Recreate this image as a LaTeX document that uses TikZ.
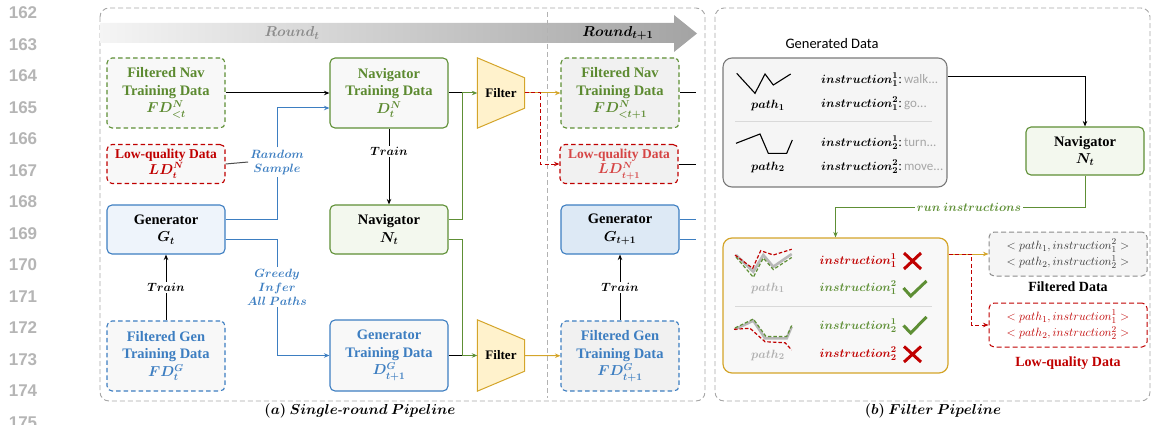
\documentclass[tikz,border=0pt]{standalone}
\usepackage[no-math]{fontspec}
\setmainfont{Liberation Serif}
\newfontfamily\carl{Carlito}
\newfontfamily\lnfont{Liberation Sans}
\usetikzlibrary{arrows.meta,calc,backgrounds}
\newcommand\bmm[1]{{\boldmath$#1$}}
\definecolor{cgreen}{HTML}{5E8F35}
\definecolor{cgtext}{HTML}{5C8A30}
\definecolor{cblue}{HTML}{3D7EC1}
\definecolor{cred}{HTML}{C00000}
\definecolor{cred2}{HTML}{D64545}
\definecolor{cgold}{HTML}{D4A52A}
\definecolor{cfilt}{HTML}{FFF2CC}
\definecolor{fillA}{HTML}{F8F8F8}
\definecolor{fillB}{HTML}{F1F1F1}
\definecolor{navfill}{HTML}{F3F8EE}
\definecolor{genfill}{HTML}{EEF4FB}
\definecolor{genfill2}{HTML}{DDE9F5}
\definecolor{lnum}{HTML}{B5B5B5}
\definecolor{outer}{HTML}{A6A6A6}
\begin{document}
\begin{tikzpicture}[x=1pt,y={(0pt,-1pt)},
  >={Stealth[length=5.5pt,width=4.5pt]},
  bx/.style={rounded corners=5pt, minimum width=118pt, align=center, line width=1.1pt, inner sep=2pt,
     font=\fontsize{14.5}{17.5}\selectfont\bfseries},
  lqfont/.style={font=\fontsize{13.5}{15.5}\selectfont\bfseries},
  dsh/.style={dash pattern=on 4.5pt off 3pt},
  lbl/.style={fill=white, inner sep=1.5pt, font=\fontsize{12}{14}\selectfont},
  blbl/.style={text=cblue, align=center, inner sep=2pt, font=\fontsize{12}{14}\selectfont},
  bl/.style={draw=cblue, line width=1pt},
  gl/.style={draw=cgreen, line width=1pt},
  gd/.style={draw=cgold, line width=1pt},
  rd/.style={draw=cred, line width=1pt, dash pattern=on 4pt off 2.5pt},
  bk/.style={draw=black, line width=1pt},
  lnumst/.style={text=lnum, font=\lnfont\bfseries\fontsize{17}{19}\selectfont},
  insb/.style={font=\fontsize{13}{15}\selectfont, inner sep=1pt},
  pth/.style={font=\fontsize{13}{15}\selectfont, inner sep=1pt},
  crossst/.style={draw=cred, line width=3pt},
  checkst/.style={draw=cgreen, line width=3pt},
  outbox/.style={draw=outer, line width=0.9pt, dash pattern=on 5pt off 3pt, rounded corners=9pt},
  tupl/.style={rounded corners=5pt, minimum width=158pt, minimum height=44pt, align=center, line width=1pt,
     dash pattern=on 5pt off 3pt, font=\fontsize{13}{16.5}\selectfont, inner sep=1pt}
]
\useasboundingbox (0,0) rectangle (1153,425);

% line numbers
\foreach \i [count=\k from 0] in {162,...,175}
  \node[lnumst] (ln\i) at (23,{13+31.5*\k}) {\i};

% outer boxes
\draw[outbox] (100,8) rectangle (705,401);
\draw[outbox] (715,8) rectangle (1150,401);

% round arrow
\shade[left color=black!4, right color=black!36]
  (100,23) -- (674,23) -- (674,15) -- (697,33.5) -- (674,52) -- (674,43) -- (100,43) -- cycle;
\node[text=black!45, font=\fontsize{15}{17}\selectfont] (rt) at (292,33) {\bmm{Round_{t}}};
\node[text=black, font=\fontsize{15}{17}\selectfont] (rt1) at (618,33) {\bmm{Round_{t+1}}};
\draw[draw=black!30, line width=0.8pt, dash pattern=on 5pt off 3pt] (547,12) -- (547,398);

% ---------- (a) nodes ----------
\node[bx, dsh, draw=cgreen, fill=fillA, text=cgtext, minimum height=70pt] (fdn) at (166,93) {Filtered Nav\\Training Data\\\bmm{FD^{N}_{<t}}};
\node[bx, lqfont, dsh, draw=cred, fill=fillA, text=cred, minimum height=39pt] (ldn) at (166,164) {Low-quality Data\\\bmm{LD^{N}_{t}}};
\node[bx, draw=cblue, fill=genfill, minimum height=49pt] (gen) at (166,229.5) {Generator\\\bmm{G_{t}}};
\node[bx, dsh, draw=cblue, fill=fillA, text=cblue, minimum height=70pt] (fdg) at (166,356) {Filtered Gen\\Training Data\\\bmm{FD^{G}_{t}}};

\node[bx, draw=cgreen, fill=fillA, text=cgtext, minimum height=70pt] (dnt) at (389,93) {Navigator\\Training Data\\\bmm{D^{N}_{t}}};
\node[bx, draw=cgreen, fill=navfill, minimum height=49pt] (nav) at (389,229.5) {Navigator\\\bmm{N_{t}}};
\node[bx, draw=cblue, fill=fillA, text=cblue, minimum height=71pt] (dgt) at (389,355.5) {Generator\\Training Data\\\bmm{D^{G}_{t+1}}};

\node[font=\fontsize{13}{15}\selectfont\bfseries, minimum width=47pt, minimum height=70pt, inner sep=0pt] (f1) at (501,93) {Filter};
\node[font=\fontsize{13}{15}\selectfont\bfseries, minimum width=47pt, minimum height=71pt, inner sep=0pt] (f2) at (501,355.5) {Filter};
\begin{scope}[on background layer]
\filldraw[fill=cfilt, draw=cgold, line width=1pt] (f1.north west) -- ([yshift=-20pt]f1.north east) -- ([yshift=20pt]f1.south east) -- (f1.south west) -- cycle;
\filldraw[fill=cfilt, draw=cgold, line width=1pt] (f2.north west) -- ([yshift=-20pt]f2.north east) -- ([yshift=20pt]f2.south east) -- (f2.south west) -- cycle;
\end{scope}

\node[bx, dsh, draw=cgreen, fill=fillB, text=cgtext, minimum height=70pt] (fdn2) at (620,93) {Filtered Nav\\Training Data\\\bmm{FD^{N}_{<t+1}}};
\node[bx, lqfont, dsh, draw=cred, fill=fillB, text=cred2, minimum height=39pt] (ldn2) at (619,164) {Low-quality Data\\\bmm{LD^{N}_{t+1}}};
\node[bx, draw=cblue, fill=genfill2, minimum height=49pt] (gen2) at (620,229.5) {Generator\\\bmm{G_{t+1}}};
\node[bx, dsh, draw=cblue, fill=fillB, text=cblue, minimum height=70pt] (fdg2) at (620,356) {Filtered Gen\\Training Data\\\bmm{FD^{G}_{t+1}}};

% ---------- (a) connectors ----------
\draw[bk,->] (fdn) -- (dnt);
\draw[bk,->] (dnt) -- node[lbl, pos=0.3] (tr1) {\bmm{Train}} (nav);
\draw[bk,->] (fdg) -- node[lbl] (tr2) {\bmm{Train}} (gen);
\draw[bk,->] (fdg2) -- node[lbl] (tr3) {\bmm{Train}} (gen2);

\node[blbl] (rs) at (277,162) {\bmm{Random}\\\bmm{Sample}};
\draw[bl] ([yshift=10pt]gen.east) -| (rs.south);
\draw[bl,->] (rs.north) |- ([yshift=-15pt]dnt.west);
\draw[draw=black!70, line width=1pt] (ldn.east) -- (rs.west);

\node[blbl] (gi) at (277,287) {\bmm{Greedy}\\\bmm{Infer}\\\bmm{All\ Paths}};
\draw[bl] ([yshift=-10pt]gen.east) -| (gi.north);
\draw[bl,->] (gi.south) |- (dgt.west);

\coordinate (j1) at ($(f1.west)+(-15,0)$);
\coordinate (j2) at ($(f2.west)+(-15,0)$);
\draw[bk] (dnt.east) -- (j1);
\draw[gl,->] ([yshift=10pt]nav.east) -| (j1) -- (f1.west);
\draw[bk] (dgt.east) -- (j2);
\draw[gl,->] ([yshift=-10pt]nav.east) -| (j2) -- (f2.west);

\draw[gd,->] (f1) -- (fdn2);
\draw[rd,->] (f1.east) -- ++(16,0) |- (ldn2.west);
\draw[gd,->] (f2) -- (fdg2);

\draw[bk] (fdn2.east) -- ++(16,0);
\draw[bk] (ldn2.east) -- ++(17,0);
\draw[bl] ([yshift=10pt]gen2.east) -- ++(16,0);
\draw[bl] ([yshift=-10pt]gen2.east) -- ++(16,0);

\node[font=\fontsize{13.5}{15}\selectfont] (capa) at (360,411) {\bmm{(a)\ Single}\textbf{-}\bmm{round\ Pipeline}};

% ---------- (b) ----------
\node[font=\carl\fontsize{14.5}{16}\selectfont] (gdl) at (832,44) {Generated Data};
\node[draw=black!52, fill=black!4, rounded corners=9pt, line width=1.1pt, minimum width=224pt, minimum height=129pt] (gd) at (835,122.5) {};
\draw[draw=black!15, line width=1pt] (735,122) -- (932,122);
\draw[line width=1.1pt] (736.7,73.3) -- (755,93.3) -- (765,74) -- (773.3,85) -- (790.7,74);
\draw[line width=1.1pt] (736,143.3) -- (760,134) -- (768.3,153.3) -- (786.7,153.3) -- (792.3,140);
\node[pth] (p1) at (768,106) {\bmm{path_{1}}};
\node[pth] (p2) at (768,167) {\bmm{path_{2}}};
\node[insb, anchor=west] (i11) at (820,80) {\bmm{instruction^{1}_{1}}:\,\textcolor{black!35}{\carl walk...}};
\node[insb, anchor=west] (i12) at (820,104) {\bmm{instruction^{2}_{1}}:\,\textcolor{black!35}{\carl go...}};
\node[insb, anchor=west] (i21) at (820,143) {\bmm{instruction^{1}_{2}}:\,\textcolor{black!35}{\carl turn...}};
\node[insb, anchor=west] (i22) at (820,167) {\bmm{instruction^{2}_{2}}:\,\textcolor{black!35}{\carl move...}};

\node[bx, draw=cgreen, fill=navfill, minimum height=48pt] (navb) at (1085,151) {Navigator\\\bmm{N_{t}}};
\draw[bk,->] ([yshift=45.5pt]gd.east) -| (navb.north);

\node[draw=cgold, fill=fillA, rounded corners=9pt, line width=1.2pt, minimum width=225pt, minimum height=135pt] (res) at (835.5,305.5) {};
\node[lbl, text=cgreen, font=\fontsize{12.5}{14}\selectfont] (ri) at (969,207) {\bmm{run\ instructions}};
\draw[gl] (navb.south) |- (ri.east);
\draw[gl,->] (ri.west) -| (res.north);

\draw[draw=black!15, line width=1pt] (735,306) -- (932,306);
% path1 traces
\draw[draw=black!28, line width=2.6pt] (736,255) -- (753.3,271.7) -- (763.3,255) -- (773.3,266.7) -- (791.7,254);
\draw[draw=cgreen, line width=1.2pt, dash pattern=on 3.5pt off 2pt] (736,257) -- (753.3,277.3) -- (763.3,258) -- (773.3,269.5) -- (791.7,257.5);
\draw[draw=cred, line width=1.2pt, dash pattern=on 3.5pt off 2pt] (735,255) -- (752.7,268.3) -- (760.7,250.7) -- (773.3,255) -- (791.7,249.3);
% path2 traces
\draw[draw=black!28, line width=2.6pt] (735,329.3) -- (753.3,320.7) -- (765,338.3) -- (786.7,338.3) -- (791.7,326.7);
\draw[draw=cgreen, line width=1.2pt, dash pattern=on 3.5pt off 2pt] (735,328) -- (753.3,319) -- (766,336.5) -- (786.7,336.5) -- (791.7,325.5);
\draw[draw=cred, line width=1.2pt, dash pattern=on 3.5pt off 2pt] (734,329.3) -- (750,328.3) -- (765,341.7) -- (785,342.7) -- (791.7,350);
\node[pth, text=black!30] (q1) at (768,288) {\bmm{path_{1}}};
\node[pth, text=black!30] (q2) at (768,355) {\bmm{path_{2}}};

\node[insb, text=cred, anchor=east] (r11) at (898,261) {\bmm{instruction^{1}_{1}}};
\node[insb, text=cgreen, anchor=east] (r12) at (898,288) {\bmm{instruction^{2}_{1}}};
\node[insb, text=cgreen, anchor=east] (r21) at (898,326) {\bmm{instruction^{1}_{2}}};
\node[insb, text=cred, anchor=east] (r22) at (898,354) {\bmm{instruction^{2}_{2}}};
\draw[crossst] (904,253) -- (921,269) (921,253) -- (904,269);
\draw[checkst] (903.5,288) -- (910.7,296) -- (926.5,281);
\draw[checkst] (903.5,325.5) -- (910.7,333) -- (926.5,317);
\draw[crossst] (904,346.5) -- (921,362) (921,346.5) -- (904,362);

\node[tupl, draw=black!45, fill=black!4, text=black!80] (fdb) at (1068,254) {$<path_{1},instruction^{2}_{1}>$\\$<path_{2},instruction^{1}_{2}>$};
\node[font=\fontsize{14}{16}\selectfont\bfseries] (fdbl) at (1068,287) {Filtered Data};
\node[tupl, draw=cred, fill=white, text=cred] (lqb) at (1068,325) {$<path_{1},instruction^{1}_{1}>$\\$<path_{2},instruction^{2}_{2}>$};
\node[font=\fontsize{14}{16}\selectfont\bfseries, text=cred] (lqbl) at (1068,363) {Low-quality Data};

\draw[gd,->] (res.east |- fdb.west) -- (fdb.west);
\draw[rd,->] (res.east |- fdb.west) -- ++(23,0) |- (lqb.west);

\node[font=\fontsize{13.5}{15}\selectfont] (capb) at (933,411) {\bmm{(b)\ Filter\ Pipeline}};
\end{tikzpicture}
\end{document}
